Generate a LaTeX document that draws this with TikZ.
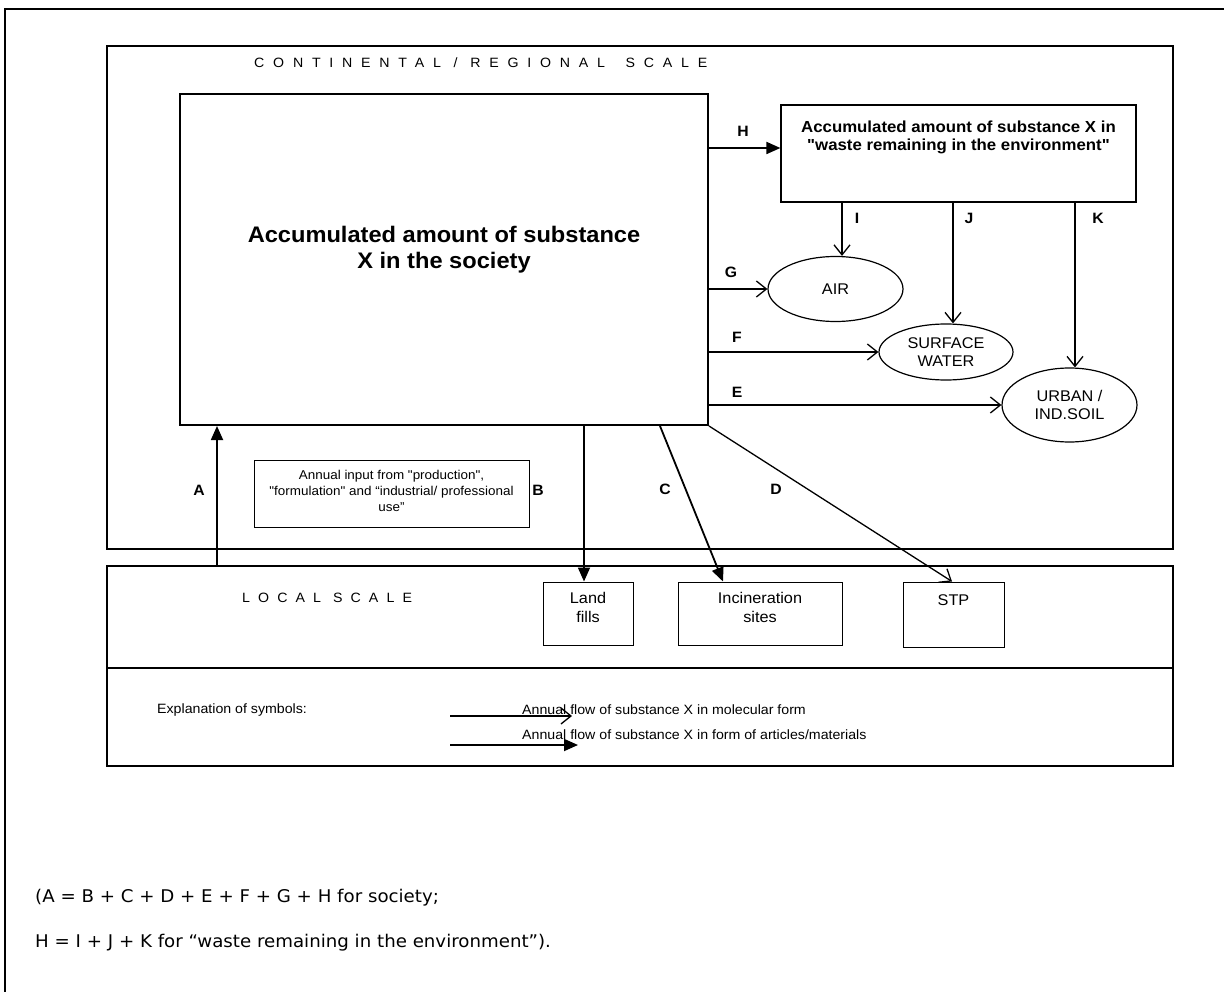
\documentclass[tikz,border=0pt]{standalone}
\usepackage{fontspec}
\setmainfont{Liberation Sans}[Ligatures=TeXOff,FakeStretch=1.05]
\newfontfamily\spacedA{Liberation Sans}[Ligatures=TeXOff,LetterSpace=65,FakeStretch=1.05]
\newfontfamily\spacedB{Liberation Sans}[Ligatures=TeXOff,LetterSpace=60,FakeStretch=1.05]
\newfontfamily\eqfont{DejaVu Sans}[FakeStretch=1.04]
\usetikzlibrary{arrows.meta,shapes.geometric}
\tikzset{
  box/.style={draw, rectangle, inner sep=0pt, line width=1.2pt},
  oval/.style={draw, ellipse, inner sep=0pt, line width=1.2pt, align=center, font=\fontsize{15.5}{18}\selectfont},
  lbl/.style={font=\fontsize{15}{18}\selectfont\bfseries, inner sep=0pt},
  txt/.style={inner sep=0pt, align=center},
  plain/.style={inner sep=0pt, anchor=west},
  oflow/.style={line width=1.3pt, -{Straight Barb[length=10pt,width=16pt,line width=1.3pt]}},
  fflow/.style={line width=1.8pt, -{Triangle[length=14pt,width=12pt]}},
}
\begin{document}
\begin{tikzpicture}[x=1pt,y=-1pt]
\useasboundingbox (0,0) rectangle (1224,992);
% outer frame (cut off at right and bottom)
\draw[line width=2.5pt] (5,992) -- (5,9) -- (1224,9);

% scale boxes
\node[box, line width=1.3pt, minimum width=1066, minimum height=503] (cont) at (640,297.5) {};
\node[box, minimum width=1066, minimum height=102] (local) at (640,617) {};
\node[box, minimum width=1066, minimum height=98] (legend) at (640,717) {};

\node[plain, font=\spacedA\fontsize{13.5}{16}\selectfont] (contT) at (254,63) {CONTINENTAL / REGIONAL\hspace{8pt} SCALE};
\node[plain, font=\spacedB\fontsize{13.5}{16}\selectfont] (localT) at (242,598) {LOCAL SCALE};

% society
\node[box, line width=2pt, minimum width=528, minimum height=331] (soc) at (444,259.5) {};
\node[txt, font=\fontsize{22.5}{26}\selectfont\bfseries] (socT) at (444,250) {Accumulated amount of substance\\X in the society};

% waste
\node[box, minimum width=355, minimum height=97] (waste) at (958.5,153.5) {};
\node[txt, font=\fontsize{16}{18}\selectfont\bfseries] (wasteT) at (958.5,137) {Accumulated amount of substance X in\\"waste remaining in the environment"};

% compartments
\node[oval, minimum width=135, minimum height=65] (air) at (835.5,289) {AIR};
\node[oval, minimum width=134, minimum height=56] (surf) at (946,352) {SURFACE\\WATER};
\node[oval, minimum width=135, minimum height=74] (urban) at (1069.5,405) {URBAN /\\IND.SOIL};

% local sites
\node[box, line width=1pt, minimum width=90, minimum height=63] (land) at (588,613.5) {};
\node[txt, font=\fontsize{15.5}{19}\selectfont] (landT) at (588,607) {Land\\fills};
\node[box, line width=1pt, minimum width=164, minimum height=63] (incin) at (760,613.5) {};
\node[txt, font=\fontsize{15.5}{19}\selectfont] (incinT) at (760,607) {Incineration\\sites};
\node[box, line width=1pt, minimum width=101, minimum height=65] (stp) at (953.5,614.5) {};
\node[txt, font=\fontsize{15.5}{19}\selectfont] (stpT) at (953.5,600) {STP};

% annual input
\node[box, line width=1pt, minimum width=275, minimum height=67] (input) at (391.5,493.5) {};
\node[txt, font=\fontsize{12.8}{16}\selectfont] (inputT) at (391.5,490.5) {Annual input from "production",\\"formulation" and “industrial/ professional\\use”};

% flow labels
\node[lbl] (lA) at (199,490) {A};
\node[lbl] (lB) at (538,490) {B};
\node[lbl] (lC) at (665,489) {C};
\node[lbl] (lD) at (776,489) {D};
\node[lbl] (lE) at (737,392) {E};
\node[lbl] (lF) at (737,337) {F};
\node[lbl] (lG) at (731,272) {G};
\node[lbl] (lH) at (743,131) {H};
\node[lbl] (lI) at (857,218) {I};
\node[lbl] (lJ) at (969,218) {J};
\node[lbl] (lK) at (1098,218) {K};

% helper coordinates
\coordinate (xA) at (217,0);
\coordinate (xB) at (584,0);
\coordinate (xC1) at (660,0);
\coordinate (xC2) at (723,0);
\coordinate (xD) at (952,0);
\coordinate (yH) at (0,148);
\coordinate (xI) at (842,0);
\coordinate (xJ) at (953,0);
\coordinate (xK) at (1075,0);

% flows
\draw[fflow] (local.north -| xA) -- (soc.south -| xA);
\draw[fflow] (soc.south -| xB) -- (land.north -| xB);
\draw[fflow] (soc.south -| xC1) -- (incin.north -| xC2);
\draw[oflow] (soc.south east) -- (stp.north -| xD);
\draw[oflow] (soc.east |- urban.west) -- (urban.west);
\draw[oflow] (soc.east |- surf.west) -- (surf.west);
\draw[oflow] (soc.east |- air.west) -- (air.west);
\draw[fflow] (soc.east |- yH) -- (waste.west |- yH);
\draw[oflow] (waste.south -| xI) -- (air.north -| xI);
\draw[oflow] (waste.south -| xJ) -- (surf.north -| xJ);
\draw[oflow] (waste.south -| xK) -- (urban.north -| xK);

% legend
\node[plain, font=\fontsize{13.5}{16}\selectfont] (expl) at (157,710) {Explanation of symbols:};
\coordinate (l1a) at (450,716);
\coordinate (l1b) at (572,716);
\coordinate (l2a) at (450,745);
\coordinate (l2b) at (578,745);
\draw[oflow] (l1a) -- (l1b);
\draw[fflow] (l2a) -- (l2b);
\node[plain, font=\fontsize{13.5}{16}\selectfont] (leg1) at (522,710) {Annual flow of substance X in molecular form};
\node[plain, font=\fontsize{13.5}{16}\selectfont] (leg2) at (522,735) {Annual flow of substance X in form of articles/materials};

% equations
\node[plain, font=\eqfont\fontsize{17.5}{20}\selectfont] (eq1) at (35,898) {(A = B + C + D + E + F + G + H for society;};
\node[plain, font=\eqfont\fontsize{17.5}{20}\selectfont] (eq2) at (35,943) {H = I + J + K for “waste remaining in the environment”).};
\end{tikzpicture}
\end{document}
